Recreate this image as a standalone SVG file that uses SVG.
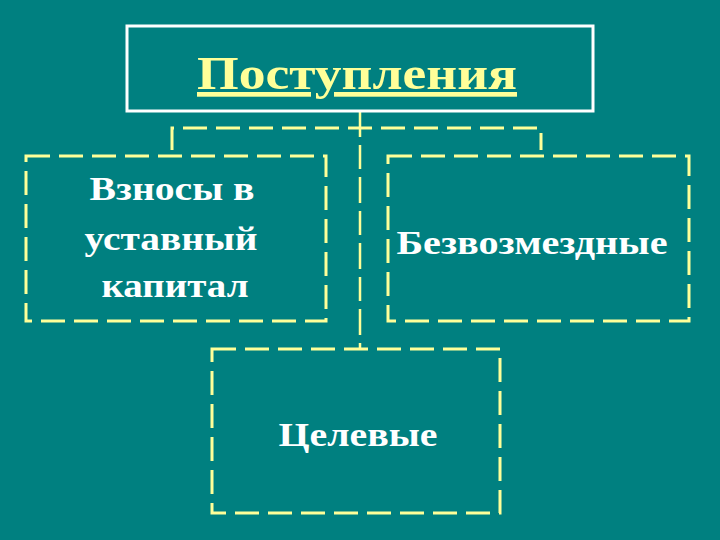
<svg xmlns="http://www.w3.org/2000/svg" width="720" height="540" viewBox="0 0 720 540">
<style>
.dash{fill:none;stroke:#ffff99;stroke-width:3;stroke-dasharray:24 9}
.t{font-family:"Liberation Serif","Times New Roman","DejaVu Serif",serif;font-weight:bold;font-size:33px;fill:#ffffff;text-anchor:middle}
</style>
<rect width="720" height="540" fill="#008080"/>
<g id="connectors">
<line x1="360" y1="111" x2="360" y2="349" stroke="#ffff99" stroke-width="2.5" stroke-dasharray="26 8 24 8"/>
<path class="dash" d="M172,150 V128 H541 V150"/>
</g>
<g id="title">
<rect x="127" y="26" width="466" height="85" fill="#008080" stroke="#ffffff" stroke-width="3"/>
<text x="357" y="89" font-family="Liberation Serif, Times New Roman, DejaVu Serif, serif" font-weight="bold" font-size="47" fill="#ffff99" text-anchor="middle" text-decoration="underline" textLength="320" lengthAdjust="spacingAndGlyphs">Поступления</text>
</g>
<g id="vznosy">
<rect class="dash" x="26" y="156" width="300" height="165" style="fill:#008080"/>
<text class="t" x="172" y="200" textLength="165" lengthAdjust="spacingAndGlyphs">Взносы в</text>
<text class="t" x="171" y="250" textLength="173" lengthAdjust="spacingAndGlyphs">уставный</text>
<text class="t" x="175" y="297" textLength="147" lengthAdjust="spacingAndGlyphs">капитал</text>
</g>
<g id="bezvozmezdnye">
<rect class="dash" x="388" y="156" width="301" height="165" style="fill:#008080"/>
<text class="t" x="532" y="254" textLength="271" lengthAdjust="spacingAndGlyphs">Безвозмездные</text>
</g>
<g id="tselevye">
<rect class="dash" x="212" y="349" width="288" height="164" style="fill:#008080"/>
<text class="t" x="358" y="446" textLength="159" lengthAdjust="spacingAndGlyphs">Целевые</text>
</g>
</svg>
